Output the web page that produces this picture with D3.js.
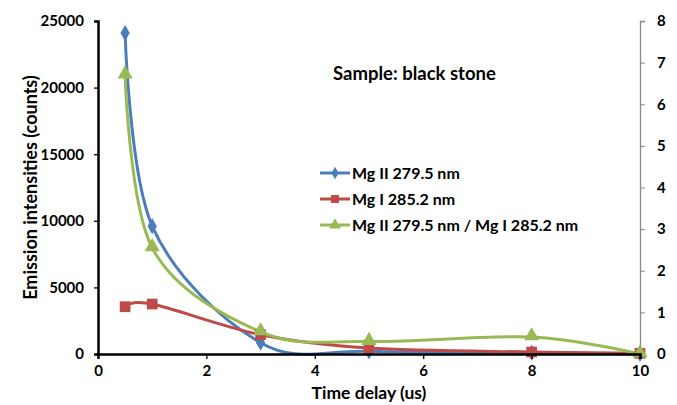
<!DOCTYPE html>
<html>
<head>
<meta charset="utf-8">
<script src="https://cdn.jsdelivr.net/npm/d3@7"></script>
<style>
  body { margin: 0; background: #fff; }
  text { font-family: Lato, "Open Sans", sans-serif; font-weight: bold; }
</style>
</head>
<body>
<script>
// data
let timeDelay = [0.5, 1, 3, 5, 8, 10]
let mgII = [24100, 9600, 850, 200, 100, 0]
let mgI = [3550, 3750, 1450, 450, 150, 50]
let ratio = [6.7, 2.55, 0.53, 0.3, 0.41, 0]
let xTicks = [0, 2, 4, 6, 8, 10]
let yTicks = [0, 5000, 10000, 15000, 20000, 25000]
let y2Ticks = [0, 1, 2, 3, 4, 5, 6, 7, 8]
let seriesNames = ['Mg II 279.5 nm', 'Mg I 285.2 nm', 'Mg II 279.5 nm / Mg I 285.2 nm']

var margin = { top: 21, right: 37, bottom: 51, left: 98 },
    width = 677 - margin.left - margin.right,
    height = 405 - margin.top - margin.bottom;

var svg = d3.select("body").append("svg")
    .attr("width", 677)
    .attr("height", 405)
    .append("g")
    .attr("transform", "translate(" + margin.left + "," + margin.top + ")");

var x = d3.scaleLinear().domain([0, 10]).range([0, width])
var y = d3.scaleLinear().domain([0, 25000]).range([height, 0])
var y2 = d3.scaleLinear().domain([0, 8]).range([height, 0])

// right axis (grey)
var yAxisR = svg.append("g")
    .attr("transform", "translate(" + width + ",0)")
    .call(d3.axisRight(y2).tickValues(y2Ticks).tickSize(5).tickPadding(12))
yAxisR.select(".domain").attr("stroke", "#888").attr("stroke-width", 1.3)
yAxisR.selectAll(".tick line").attr("stroke", "#888")
yAxisR.selectAll("text").attr("font-size", 15).attr("fill", "#000")

var curve = d3.curveCardinal.tension(0)

function drawSeries(vals, scale, color) {
    var line = d3.line()
        .x((d, i) => x(timeDelay[i]))
        .y(d => scale(d))
        .curve(curve)
    svg.append("path")
        .datum(vals)
        .attr("fill", "none")
        .attr("stroke", color)
        .attr("stroke-width", 3)
        .attr("d", line)
}

drawSeries(mgII, y, "#4a7ebb")
drawSeries(mgI, y, "#be4b48")
drawSeries(ratio, y2, "#98b954")

// markers
var diamond = d3.symbol().type(d3.symbolDiamond).size(75)
var square = d3.symbol().type(d3.symbolSquare).size(115)
var triangle = d3.symbol().type(d3.symbolTriangle).size(100)

svg.selectAll(".m1").data(mgII).enter().append("path")
    .attr("d", diamond)
    .attr("fill", "#4a7ebb")
    .attr("transform", (d, i) => "translate(" + x(timeDelay[i]) + "," + y(d) + ")")
svg.selectAll(".m2").data(mgI).enter().append("path")
    .attr("d", square)
    .attr("fill", "#be4b48")
    .attr("transform", (d, i) => "translate(" + x(timeDelay[i]) + "," + y(d) + ")")
svg.selectAll(".m3").data(ratio).enter().append("path")
    .attr("d", triangle)
    .attr("fill", "#98b954")
    .attr("transform", (d, i) => "translate(" + x(timeDelay[i]) + "," + (y2(d) - 1) + ")")

// left and bottom axes
var yAxis = svg.append("g")
    .call(d3.axisLeft(y).tickValues(yTicks).tickFormat(d3.format("d")).tickSize(4).tickPadding(10))
yAxis.select(".domain").attr("stroke", "#000").attr("stroke-width", 2.5)
yAxis.selectAll(".tick line").attr("stroke", "#000").attr("stroke-width", 1.3)
yAxis.selectAll("text").attr("font-size", 15)

var xAxis = svg.append("g")
    .attr("transform", "translate(0," + height + ")")
    .call(d3.axisBottom(x).tickValues(xTicks).tickSize(5).tickPadding(6))
xAxis.select(".domain").attr("stroke", "#000").attr("stroke-width", 2.5)
xAxis.selectAll(".tick line").attr("stroke", "#000").attr("stroke-width", 1.3)
xAxis.selectAll("text").attr("font-size", 15)

// titles
svg.append("text")
    .attr("x", (x(0) + x(10)) / 2)
    .attr("y", height + 45)
    .attr("text-anchor", "middle")
    .attr("font-size", 17.5)
    .text("Time delay (us)")

svg.append("text")
    .attr("transform", "translate(" + (-61) + "," + (height / 2) + ") rotate(-90)")
    .attr("text-anchor", "middle")
    .attr("font-size", 18)
    .text("Emission intensities (counts)")

svg.append("text")
    .attr("x", 235)
    .attr("y", 59)
    .attr("font-size", 18.5)
    .text("Sample: black stone")

// legend
var colors = ["#4a7ebb", "#be4b48", "#98b954"]
var shapes = [d3.symbol().type(d3.symbolDiamond).size(45), d3.symbol().type(d3.symbolSquare).size(65), d3.symbol().type(d3.symbolTriangle).size(60)]
var legend = svg.selectAll(".legend").data(seriesNames).enter().append("g")
    .attr("transform", (d, i) => "translate(" + 222 + "," + (152 + i * 26) + ")")
legend.append("line")
    .attr("x1", 0).attr("x2", 30)
    .attr("stroke", (d, i) => colors[i])
    .attr("stroke-width", 3)
legend.append("path")
    .attr("d", (d, i) => shapes[i]())
    .attr("fill", (d, i) => colors[i])
    .attr("transform", "translate(15,0)")
legend.append("text")
    .attr("x", 32)
    .attr("dy", "0.35em")
    .attr("font-size", 16)
    .text(d => d)
</script>
</body>
</html>
